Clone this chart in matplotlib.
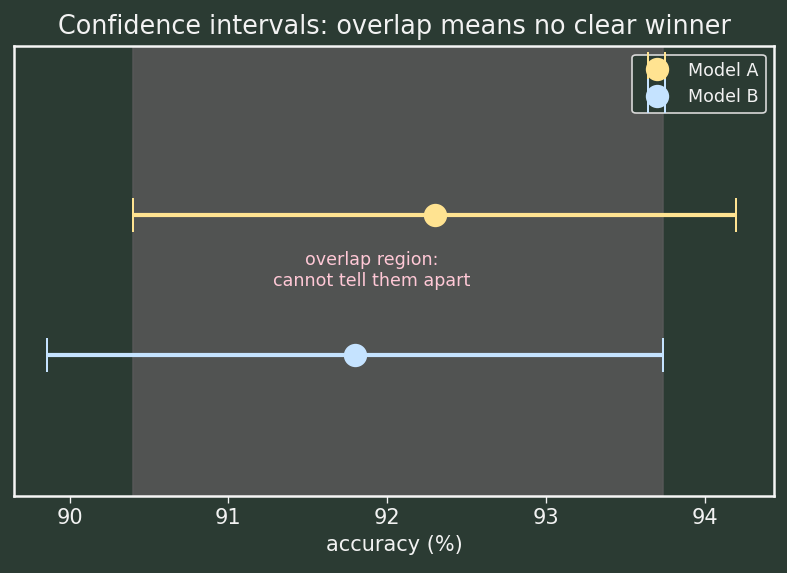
import matplotlib
matplotlib.use("Agg")
import matplotlib.pyplot as plt

models = ["Model A", "Model B"]
means = [92.3, 91.8]
lows = [90.4, 89.86]
highs = [94.2, 93.74]
ypos = [1, 0]
colors = ["#ffe391", "#c5e3ff"]
ticks = [90, 91, 92, 93, 94]

bg = "#2b3b33"
fig, ax = plt.subplots(figsize=(7.87/1.2, 5.73/1.2), dpi=120)
fig.patch.set_facecolor(bg)
ax.set_facecolor(bg)

ov_lo = max(lows)
ov_hi = min(highs)
ax.axvspan(ov_lo, ov_hi, color="#585858", alpha=0.85, zorder=0)

for m, mu, lo, hi, y, c in zip(models, means, lows, highs, ypos, colors):
    ax.errorbar(mu, y, xerr=[[mu - lo], [hi - mu]], fmt="o", color=c,
                ecolor=c, elinewidth=2.5, capsize=10, capthick=1.2,
                markersize=13, label=m, zorder=3)

ax.text((ov_lo + ov_hi) / 2 - 0.17, 0.6, "overlap region:\ncannot tell them apart",
        ha="center", va="center", color="#ffc8d6", fontsize=10.5)

ax.set_xlim(89.65, 94.44)
ax.set_ylim(-1.0, 2.2)
ax.set_yticks([])
ax.set_xticks(ticks)
ax.tick_params(axis="x", colors="#f2f2f2", labelsize=12.5, length=4)
for s in ax.spines.values():
    s.set_color("#f5f5f5")
    s.set_linewidth(1.5)
ax.set_xlabel("accuracy (%)", color="#f2f2f2", fontsize=12.5)
ax.set_title("Confidence intervals: overlap means no clear winner",
             color="#f2f2f2", fontsize=15.3, pad=7)
leg = ax.legend(loc="upper right", facecolor=bg, edgecolor="#d8d8d8",
                labelcolor="#f2f2f2", fontsize=10.5, framealpha=1)
fig.subplots_adjust(left=0.018, right=0.984, top=0.92, bottom=0.135)
fig.savefig("out.png", dpi=120, facecolor=bg)
